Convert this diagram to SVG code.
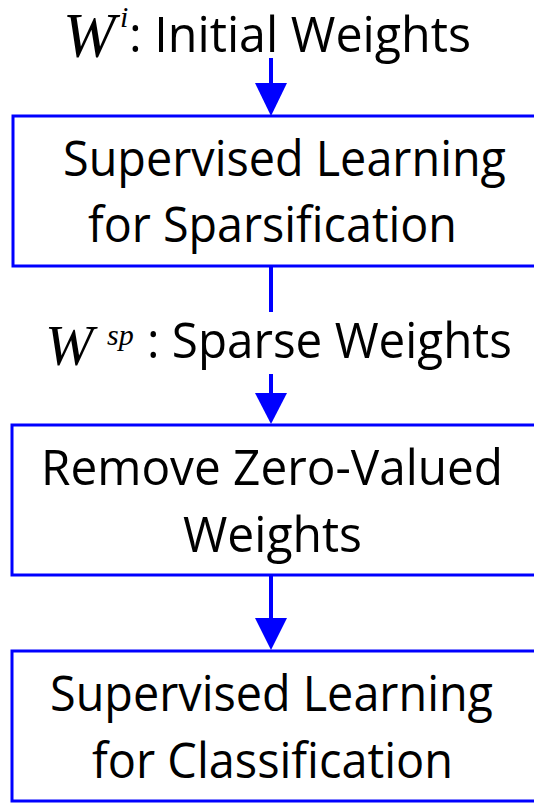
<svg xmlns="http://www.w3.org/2000/svg" width="534" height="803" viewBox="0 0 534 803">
<style>
.box{fill:#fff;stroke:#0000ff;stroke-width:3}
.t{font-family:"Open Sans","Liberation Sans",sans-serif;font-size:49px;fill:#000}
.m{font-family:"Liberation Serif","Times New Roman",serif;font-style:italic;fill:#000}
.ln{stroke:#0000ff;stroke-width:4;fill:none}
.hd{fill:#0000ff}
</style>
<rect width="534" height="803" fill="#fff"/>
<g id="label-initial">
<text class="m" x="63" y="57" font-size="63">W</text>
<text class="m" x="120" y="27" font-size="30">i</text>
<text class="t" x="129" y="52" textLength="342" lengthAdjust="spacingAndGlyphs">: Initial Weights</text>
</g>
<g id="node-sparsification">
<rect class="box" x="13" y="116" width="530" height="150"/>
<text class="t" x="63" y="176" textLength="443" lengthAdjust="spacingAndGlyphs">Supervised Learning</text>
<text class="t" x="88" y="242" textLength="369" lengthAdjust="spacingAndGlyphs">for Sparsification</text>
</g>
<g id="label-sparse">
<text class="m" x="45" y="365" font-size="58">W</text>
<text class="m" x="107" y="345" font-size="30">sp</text>
<text class="t" x="147" y="358" textLength="365" lengthAdjust="spacingAndGlyphs">: Sparse Weights</text>
</g>
<g id="node-remove">
<rect class="box" x="12" y="425" width="531" height="150"/>
<text class="t" x="41" y="485" textLength="462" lengthAdjust="spacingAndGlyphs">Remove Zero-Valued</text>
<text class="t" x="183" y="552" textLength="179" lengthAdjust="spacingAndGlyphs">Weights</text>
</g>
<g id="node-classification">
<rect class="box" x="12" y="651" width="531" height="150"/>
<text class="t" x="50" y="711" textLength="443" lengthAdjust="spacingAndGlyphs">Supervised Learning</text>
<text class="t" x="92" y="778" textLength="361" lengthAdjust="spacingAndGlyphs">for Classification</text>
</g>
<g id="connectors">
<line class="ln" x1="271" y1="58" x2="271" y2="85"/>
<polygon class="hd" points="255,83 287,83 271,116"/>
<line class="ln" x1="271" y1="267" x2="271" y2="312"/>
<line class="ln" x1="271" y1="374" x2="271" y2="395"/>
<polygon class="hd" points="255,393 287,393 271,424"/>
<line class="ln" x1="271" y1="576" x2="271" y2="620"/>
<polygon class="hd" points="255,618 287,618 271,650"/>
</g>
</svg>
